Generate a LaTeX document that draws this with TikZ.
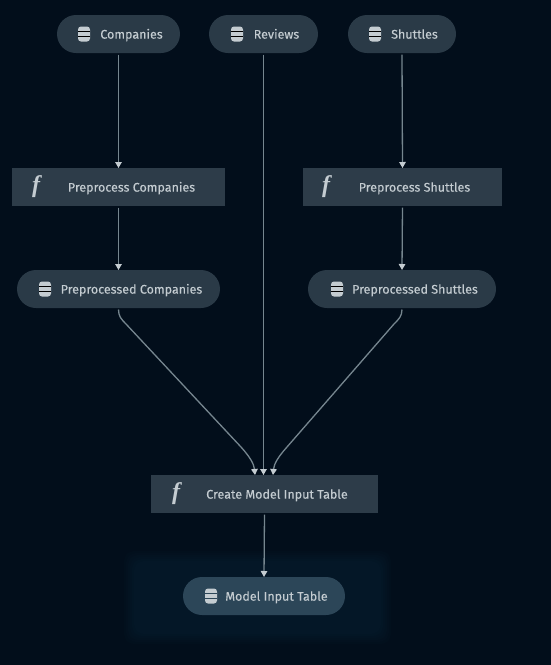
\documentclass[tikz,border=0pt]{standalone}
\usepackage{fontspec}
\setmainfont[FakeBold=0.12]{Fira Sans}
\newfontfamily\ffont[BoldItalicFont={Liberation Serif Bold Italic}]{Liberation Serif}
\usetikzlibrary{shapes.misc,arrows.meta}
\definecolor{bgc}{HTML}{020E1B}
\definecolor{pillc}{HTML}{2A3A47}
\definecolor{rectc}{HTML}{2D3C49}
\definecolor{selc}{HTML}{2C4658}
\definecolor{txtc}{HTML}{C4CCD1}
\definecolor{linec}{HTML}{76868F}
\definecolor{haloc}{HTML}{052133}
\tikzset{
  x=1pt,y=-1pt,
  pill/.style={shape=rounded rectangle,fill=pillc,minimum height=38pt,inner sep=0pt,outer sep=0pt},
  taskbox/.style={shape=rectangle,fill=rectc,minimum height=38pt,inner sep=0pt,outer sep=0pt},
  lab/.style={text=txtc,font=\fontsize{12.5}{14}\selectfont,inner sep=0pt,anchor=mid},
  fsym/.style={text=txtc,font=\ffont\bfseries\itshape\fontsize{24}{24}\selectfont,inner sep=0pt},
  edge/.style={draw=linec,line width=1.3pt,-{Triangle[length=6pt,width=6.5pt,color=txtc]},shorten <=1.5pt},
  dbicon/.pic={
    \fill[txtc,rounded corners=3pt] (-6,-7.5) rectangle (6,7.5);
    \draw[#1,line width=0.9pt] (-6,-2.5) -- (6,-2.5) (-6,2.5) -- (6,2.5);
  },
  dbicon/.default=pillc
}
\begin{document}
\begin{tikzpicture}
\useasboundingbox (0,0) rectangle (551,665);
\fill[bgc] (0,0) rectangle (551,665);
\foreach \d/\c in {0/8,2/16,4/24,6/32,8/40,10/50}{
  \fill[haloc!\c!bgc,rounded corners=10pt] (124+\d,551+\d) rectangle (391-\d,644-\d);
}
% data nodes
\node[pill,minimum width=123pt] (companies) at (118.5,34) {};
\node[pill,minimum width=109pt] (reviews) at (263.5,34) {};
\node[pill,minimum width=108pt] (shuttles) at (402,34) {};
\node[taskbox,minimum width=213pt] (ppc) at (118.5,187) {};
\node[taskbox,minimum width=199pt] (pps) at (402.5,187) {};
\node[pill,minimum width=203pt] (pdc) at (118.5,289) {};
\node[pill,minimum width=188pt] (pds) at (402,289) {};
\node[taskbox,minimum width=227pt] (cmit) at (264.5,494) {};
\node[pill,fill=selc,minimum width=162pt] (mit) at (264,596) {};
% labels
\node[lab] (lcompanies) at (131.5,36) {Companies};
\node[lab] (lreviews) at (276.5,36) {Reviews};
\node[lab] (lshuttles) at (414.5,36) {Shuttles};
\node[lab] (lppc) at (131.5,189) {Preprocess Companies};
\node[lab] (lpps) at (414.5,189) {Preprocess Shuttles};
\node[lab] (lpdc) at (131.5,291) {Preprocessed Companies};
\node[lab] (lpds) at (415,291) {Preprocessed Shuttles};
\node[lab] (lcmit) at (277,496) {Create Model Input Table};
\node[lab] (lmit) at (276.5,598) {Model Input Table};
\node[fsym] (fppc) at (36,187) {f};
\node[fsym] (fpps) at (326,187) {f};
\node[fsym] (fcmit) at (176,494) {f};
% icons
\pic at (84,34) {dbicon};
\pic at (237,34) {dbicon};
\pic at (375,34) {dbicon};
\pic at (45,289) {dbicon};
\pic at (337,289) {dbicon};
\pic at (211,596) {dbicon=selc};
% connector ends
\coordinate (in1) at (255,475);
\coordinate (in3) at (273,475);
% connectors
\draw[edge] (companies.south) -- (ppc.north);
\draw[edge] (ppc.south) -- (pdc.north);
\draw[edge] (shuttles.south) -- (pps.north);
\draw[edge] (pps.south) -- (pds.north);
\draw[edge] (reviews.south) -- (reviews.south |- cmit.north);
\draw[edge] (pdc.south) .. controls (118.5,316) and (121,319) .. (126,324) -- (241,447) .. controls (250,457) and (254,464) .. (in1);
\draw[edge] (pds.south) .. controls (402,316) and (399,319) .. (394,324) -- (287,447) .. controls (278,457) and (274,464) .. (in3);
\draw[edge] (cmit.south) -- (mit.north);
\end{tikzpicture}
\end{document}
